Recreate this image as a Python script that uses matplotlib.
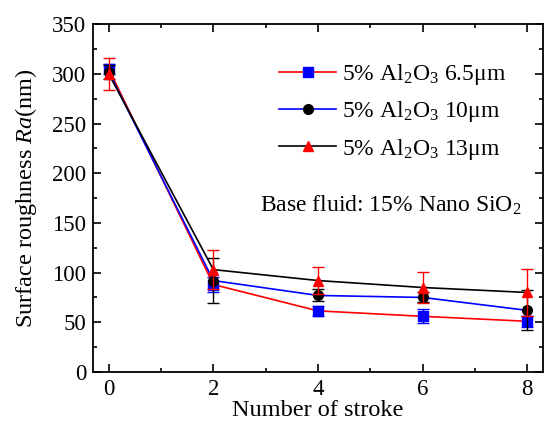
import numpy as np
import matplotlib
matplotlib.use('Agg')
import matplotlib.pyplot as plt
from matplotlib.ticker import MultipleLocator

# 数据
strokes = [0, 2, 4, 6, 8]
ra_65 = [305, 88, 61.5, 56, 51]
err_65 = [5, 8, 5, 7, 5.5]
ra_10 = [302, 92, 77, 75, 62]
err_10 = [7, 23, 6, 5, 20]
ra_13 = [300, 103, 92, 85, 80]
err_13 = [16, 20, 14, 16, 24]
labels = ['5% Al$_2$O$_3$ 6.5μm', '5% Al$_2$O$_3$ 10μm', '5% Al$_2$O$_3$ 13μm']

# 字体设置
plt.rcParams['font.family'] = ['Liberation Serif', 'DejaVu Serif']
plt.rcParams['mathtext.fontset'] = 'custom'
plt.rcParams['mathtext.rm'] = 'Liberation Serif'
plt.rcParams['mathtext.it'] = 'Liberation Serif:italic'
plt.rcParams['xtick.direction'] = 'in'
plt.rcParams['ytick.direction'] = 'in'

fig = plt.figure(figsize=(5.44, 4.23), dpi=100)
ax = fig.add_axes([0.171, 0.1206, 0.827, 0.8224])

# (数据, 误差, 线色, 标记, 标记色)
series = [
    (ra_65, err_65, 'red', 's', 'blue'),
    (ra_10, err_10, 'blue', 'o', 'black'),
    (ra_13, err_13, 'black', '^', 'red'),
]
for (y, e, lc, m, mc), lab in zip(series, labels):
    ax.errorbar(strokes, y, yerr=e, fmt='none', ecolor=mc, elinewidth=1,
                capsize=4, capthick=1)
    ax.plot(strokes, y, color=lc, lw=1.2, marker=m, ms=7, mfc=mc, mec=mc,
            label=lab)

ax.set_xlim(-0.3, 8.3)
ax.set_ylim(0, 350)
ax.xaxis.set_major_locator(MultipleLocator(2))
ax.xaxis.set_minor_locator(MultipleLocator(1))
ax.yaxis.set_major_locator(MultipleLocator(50))
ax.yaxis.set_minor_locator(MultipleLocator(25))
ax.tick_params(which='both', top=True, right=True, width=1.2, labelsize=16.5)
ax.tick_params(which='major', length=6)
ax.tick_params(axis='y', which='major', pad=5)
ax.tick_params(axis='x', which='major', pad=5)
ax.tick_params(which='minor', length=3)
for sp in ax.spines.values():
    sp.set_linewidth(1.3)

ax.set_xlabel('Number of stroke', fontsize=17.5, labelpad=0)
ax.set_ylabel('Surface roughness $Ra$(nm)', fontsize=17.5, labelpad=9)

ax.legend(frameon=False, loc='upper left', bbox_to_anchor=(0.388, 0.925),
          fontsize=17, handlelength=2.4, handletextpad=0.25,
          labelspacing=0.52, borderpad=0, numpoints=1)
ax.text(0.371, 0.48, 'Base fluid: 15% Nano SiO$_2$', transform=ax.transAxes,
        fontsize=17, va='center', ha='left')

plt.savefig('out.png', dpi=100)
plt.close()
